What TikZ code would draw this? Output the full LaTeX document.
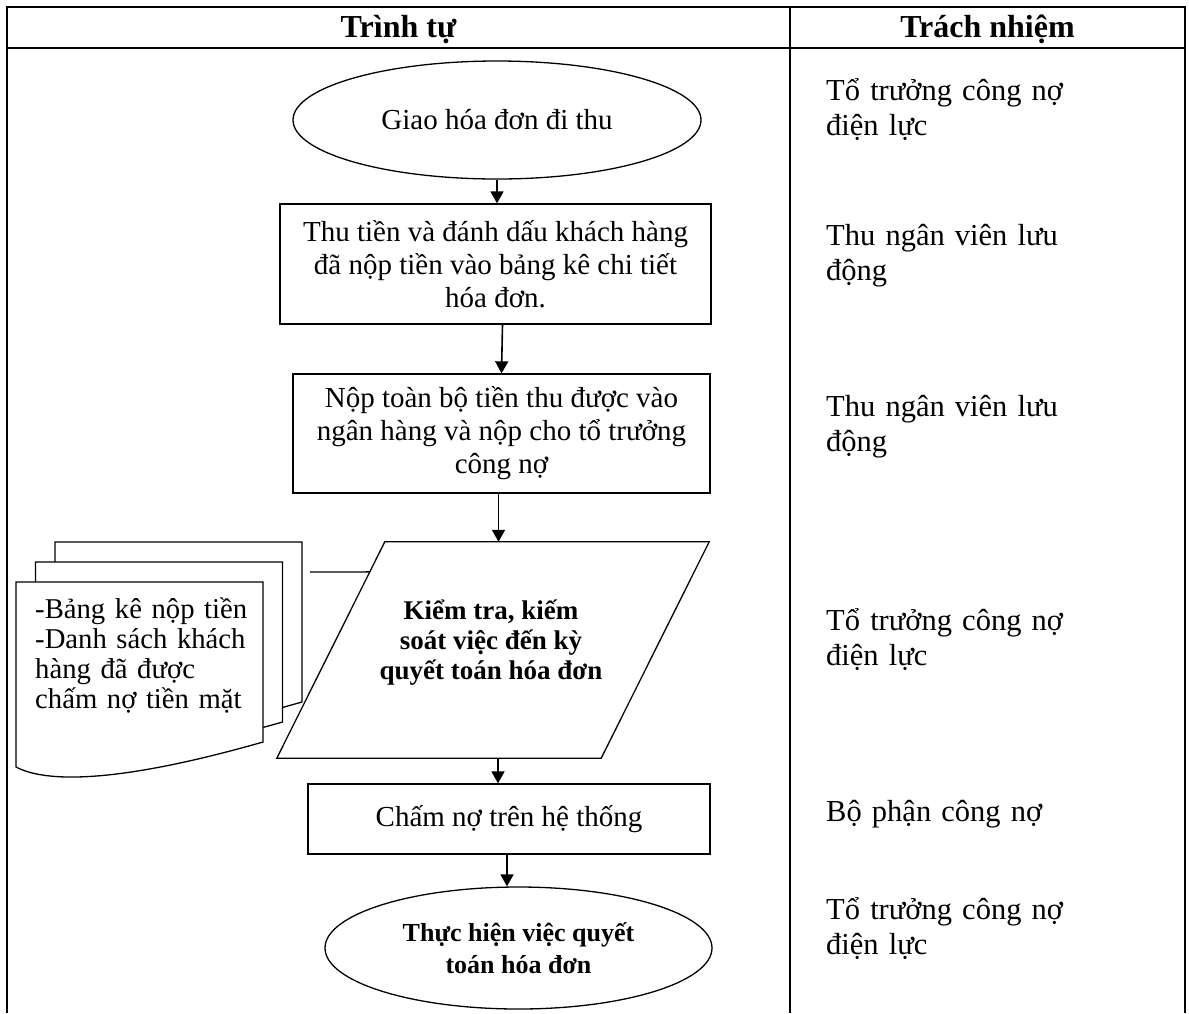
\documentclass[tikz,border=0pt]{standalone}
\usepackage{fontspec}
\setmainfont{Liberation Serif}
\usetikzlibrary{shapes.geometric,arrows.meta,calc}

\tikzset{
  frame/.style={line width=2.3pt},
  box/.style={draw, line width=1.3pt, rectangle, inner sep=0pt, align=center,
    font=\fontsize{29}{33}\selectfont},
  oval/.style={draw, line width=1.3pt, ellipse, inner sep=0pt, align=center},
  flow/.style={line width=1.6pt, -{Triangle[length=12pt,width=13pt]}},
  link/.style={line width=1.3pt},
  role/.style={anchor=base west, inner sep=0pt, text width=340pt, align=left,
    font=\fontsize{30.5}{35}\selectfont},
  head/.style={anchor=base, inner sep=0pt, font=\bfseries\fontsize{32}{36}\selectfont},
  sheet/.style={draw, fill=white, line width=1.3pt},
  docsheet/.pic={
    \draw[sheet] (0,0) -- (247,0) -- (247,160)
      .. controls (114,198) and (34,203) .. (0,185) -- cycle;
  },
}

\begin{document}
\begin{tikzpicture}[x=1pt,y=-1pt]
\useasboundingbox (0,0) rectangle (1189,1013);

% table headings
\node[head] (hseq) at (398.5,37) {Trình tự};
\node[head] (hrole) at (987.5,37) {Trách nhiệm};

% process steps
\node[oval, minimum width=408pt, minimum height=118pt,
      font=\fontsize{29}{33}\selectfont] (start) at (497,120) {Giao hóa đơn đi thu};
\node[box, minimum width=431pt, minimum height=120pt] (collect) at (495.5,264)
  {Thu tiền và đánh dấu khách hàng\\đã nộp tiền vào bảng kê chi tiết\\hóa đơn.};
\node[box, minimum width=417pt, minimum height=119pt] (deposit) at (501.5,433.5)
  {Nộp toàn bộ tiền thu được vào\\ngân hàng và nộp cho tổ trưởng\\công nợ};

% data step (parallelogram)
\node[minimum width=324pt, minimum height=216pt, inner sep=0pt] (check) at (493,650) {};
\coordinate (pTL) at ($(check.north west)+(54,0)$);
\coordinate (pTR) at ($(check.north east)+(54,0)$);
\coordinate (pBR) at ($(check.south east)+(-54,0)$);
\coordinate (pBL) at ($(check.south west)+(-54,0)$);
\draw[line width=1.3pt] (pTL) -- (pTR) -- (pBR) -- (pBL) -- cycle;
\node[align=center, inner sep=0pt, font=\bfseries\fontsize{27}{30}\selectfont]
  (checktext) at ($(check.center)+(-2,-7)$)
  {Kiểm tra, kiếm\\soát việc đến kỳ\\quyết toán hóa đơn};

\node[box, minimum width=402pt, minimum height=70pt] (post) at (509,819)
  {Chấm nợ trên hệ thống};
\node[oval, minimum width=387pt, minimum height=122pt,
      font=\bfseries\fontsize{26}{32}\selectfont] (finish) at (518.5,948)
  {Thực hiện việc quyết\\toán hóa đơn};

% stack of source documents
\pic at (55,542) {docsheet};
\pic at (35.5,562) {docsheet};
\pic at (16,582) {docsheet};
\node[anchor=base west, inner sep=0pt, text width=240pt, align=left,
      font=\fontsize{28.7}{30.3}\selectfont] (docs) at (35,618)
  {-Bảng kê nộp tiền\\-Danh sách khách\\hàng đã được\\chấm nợ tiền mặt};
\coordinate (docsout) at (310,572);
\draw[link] (docsout) -- ($(pTL)!0.139!(pBL)$);

% flow arrows
\draw[flow] (start.south) -- (start.south |- collect.north);
\draw[flow] ($(collect.south)+(7,0)$) -- (deposit.north);
\draw[flow] ($(deposit.south)+(-3,0)$) -- ($(deposit.south |- check.north)+(-3,0)$);
\draw[flow] ($(check.south)+(5,0)$) -- ($(check.south |- post.north)+(5,0)$);
\draw[flow] ($(post.south)+(-2,0)$) -- ($(post.south |- finish.north)+(-2,0)$);

% responsibilities
\node[role] (r1) at (826,100) {Tổ trưởng công nợ\\điện lực};
\node[role] (r2) at (826,245) {Thu ngân viên lưu\\động};
\node[role] (r3) at (826,416) {Thu ngân viên lưu\\động};
\node[role] (r4) at (826,630) {Tổ trưởng công nợ\\điện lực};
\node[role] (r5) at (826,821) {Bộ phận công nợ};
\node[role] (r6) at (826,919) {Tổ trưởng công nợ\\điện lực};

% table rules
\draw[frame] (7,1013) -- (7,7) -- (1185,7) -- (1185,1013);
\draw[frame] (7,48) -- (1185,48);
\draw[frame] (790,7) -- (790,1013);
\end{tikzpicture}
\end{document}
